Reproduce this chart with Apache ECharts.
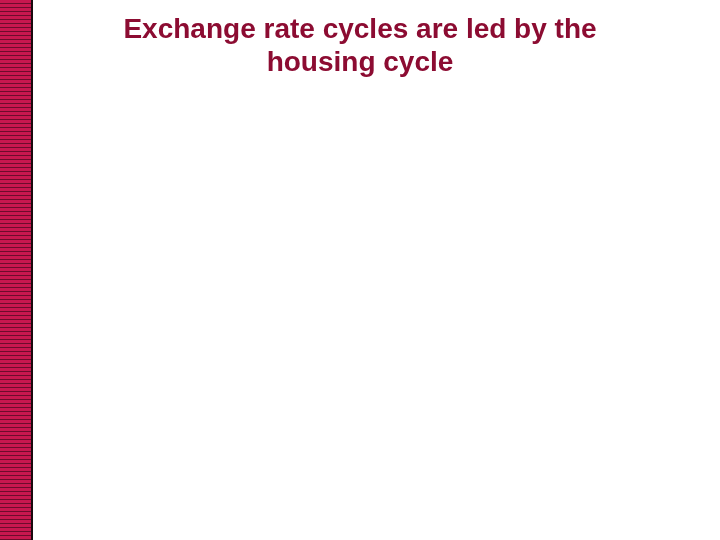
<!DOCTYPE html>
<html>
<head>
<meta charset="utf-8">
<script src="https://cdn.jsdelivr.net/npm/echarts@6/dist/echarts.min.js"></script>
<style>
  html,body{margin:0;padding:0;background:#fff;}
  #chart{width:720px;height:540px;}
</style>
</head>
<body>
<div id="chart"></div>
<script>
// slide has only a title, no plotted series
var titleLines = ['Exchange rate cycles are led by the', 'housing cycle'];

var chart = echarts.init(document.getElementById('chart'));

// decorative striped band on the left edge
var stripes = [];
for (var y = 0; y < 540; y += 4) {
  stripes.push({
    type: 'rect',
    shape: {x: 0, y: y + 3, width: 31, height: 1},
    style: {fill: '#6e0b2c'},
    silent: true
  });
}

chart.setOption({
  backgroundColor: '#ffffff',
  title: {
    text: titleLines.join('\n'),
    left: 360,
    top: 14,
    padding: 0,
    textAlign: 'center',
    textStyle: {
      fontFamily: 'Liberation Sans, Arial, sans-serif',
      fontSize: 28,
      fontWeight: 'bold',
      color: '#8c0c32',
      lineHeight: 33
    }
  },
  graphic: [
    {
      type: 'rect',
      shape: {x: 0, y: 0, width: 31, height: 540},
      style: {fill: '#c8174f'},
      silent: true
    },
    {
      type: 'group',
      children: stripes
    },
    {
      type: 'rect',
      shape: {x: 31, y: 0, width: 2, height: 540},
      style: {fill: '#1a0a0e'},
      silent: true
    }
  ]
});
</script>
</body>
</html>
